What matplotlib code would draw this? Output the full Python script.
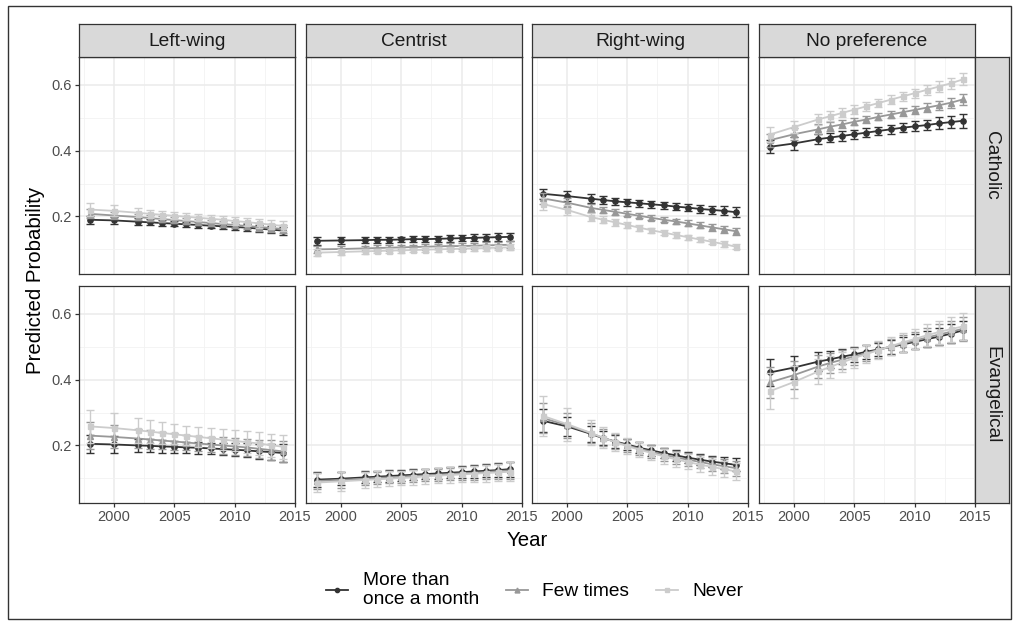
import matplotlib
matplotlib.use("Agg")
import matplotlib.pyplot as plt
from matplotlib.patches import Rectangle
from matplotlib.lines import Line2D

plt.rcParams['font.family'] = ['Liberation Sans', 'DejaVu Sans']

# ---------------- data ----------------
years = [1998, 2000, 2002, 2003, 2004, 2005, 2006, 2007, 2008, 2009, 2010, 2011, 2012, 2013, 2014]
religions = ["Catholic", "Evangelical"]
ideologies = ["Left-wing", "Centrist", "Right-wing", "No preference"]
attendance = ["More than\nonce a month", "Few times", "Never"]

# Catholic, per ideology (Left-wing, Centrist, Right-wing, No preference)
catholic_more = [
    [0.190, 0.188, 0.184, 0.182, 0.180, 0.178, 0.176, 0.174, 0.172, 0.170, 0.168, 0.166, 0.163, 0.160, 0.157],
    [0.126, 0.127, 0.128, 0.129, 0.129, 0.130, 0.131, 0.131, 0.132, 0.133, 0.134, 0.135, 0.136, 0.137, 0.138],
    [0.269, 0.262, 0.254, 0.250, 0.246, 0.243, 0.240, 0.237, 0.234, 0.230, 0.227, 0.223, 0.220, 0.217, 0.213],
    [0.412, 0.422, 0.435, 0.440, 0.445, 0.450, 0.455, 0.460, 0.465, 0.470, 0.474, 0.478, 0.483, 0.487, 0.491],
]
catholic_few = [
    [0.208, 0.203, 0.198, 0.195, 0.192, 0.189, 0.186, 0.183, 0.180, 0.177, 0.174, 0.171, 0.168, 0.165, 0.162],
    [0.100, 0.101, 0.103, 0.104, 0.105, 0.106, 0.107, 0.108, 0.109, 0.110, 0.110, 0.111, 0.112, 0.113, 0.114],
    [0.255, 0.242, 0.226, 0.220, 0.214, 0.208, 0.202, 0.196, 0.190, 0.185, 0.179, 0.173, 0.167, 0.161, 0.155],
    [0.432, 0.450, 0.465, 0.473, 0.480, 0.488, 0.495, 0.503, 0.510, 0.517, 0.524, 0.531, 0.538, 0.546, 0.556],
]
catholic_never = [
    [0.221, 0.217, 0.211, 0.208, 0.205, 0.202, 0.199, 0.196, 0.193, 0.190, 0.186, 0.183, 0.179, 0.175, 0.171],
    [0.090, 0.092, 0.094, 0.095, 0.096, 0.097, 0.098, 0.099, 0.100, 0.101, 0.102, 0.103, 0.104, 0.105, 0.106],
    [0.238, 0.220, 0.198, 0.190, 0.182, 0.174, 0.166, 0.158, 0.151, 0.144, 0.137, 0.130, 0.123, 0.116, 0.108],
    [0.449, 0.472, 0.495, 0.505, 0.515, 0.525, 0.535, 0.545, 0.555, 0.565, 0.575, 0.585, 0.595, 0.605, 0.617],
]
catholic_more_err = [
    [0.012, 0.011, 0.010, 0.009, 0.009, 0.008, 0.008, 0.008, 0.008, 0.009, 0.009, 0.010, 0.010, 0.011, 0.012],
    [0.012, 0.011, 0.010, 0.010, 0.009, 0.009, 0.009, 0.009, 0.009, 0.010, 0.010, 0.011, 0.011, 0.012, 0.013],
    [0.016, 0.015, 0.013, 0.012, 0.011, 0.011, 0.010, 0.010, 0.010, 0.011, 0.011, 0.012, 0.013, 0.014, 0.016],
    [0.020, 0.019, 0.016, 0.015, 0.014, 0.013, 0.013, 0.013, 0.013, 0.014, 0.015, 0.016, 0.018, 0.019, 0.021],
]
catholic_few_err = [
    [0.014, 0.012, 0.010, 0.010, 0.009, 0.009, 0.008, 0.008, 0.009, 0.009, 0.010, 0.010, 0.011, 0.012, 0.013],
    [0.010, 0.009, 0.008, 0.008, 0.007, 0.007, 0.007, 0.007, 0.007, 0.008, 0.008, 0.008, 0.009, 0.009, 0.010],
    [0.016, 0.014, 0.011, 0.010, 0.009, 0.008, 0.008, 0.008, 0.008, 0.008, 0.009, 0.009, 0.010, 0.010, 0.011],
    [0.020, 0.018, 0.015, 0.013, 0.012, 0.011, 0.011, 0.011, 0.011, 0.012, 0.012, 0.013, 0.014, 0.015, 0.016],
]
catholic_never_err = [
    [0.020, 0.017, 0.014, 0.013, 0.012, 0.011, 0.011, 0.011, 0.011, 0.011, 0.012, 0.012, 0.013, 0.014, 0.015],
    [0.010, 0.009, 0.008, 0.007, 0.007, 0.007, 0.007, 0.007, 0.007, 0.007, 0.007, 0.008, 0.008, 0.008, 0.009],
    [0.018, 0.015, 0.012, 0.011, 0.010, 0.009, 0.009, 0.008, 0.008, 0.008, 0.008, 0.008, 0.008, 0.008, 0.008],
    [0.022, 0.019, 0.016, 0.015, 0.014, 0.013, 0.013, 0.013, 0.013, 0.013, 0.014, 0.015, 0.016, 0.017, 0.018],
]

# Evangelical, per ideology (Left-wing, Centrist, Right-wing, No preference)
evangelical_more = [
    [0.205, 0.203, 0.200, 0.199, 0.197, 0.196, 0.194, 0.193, 0.191, 0.189, 0.187, 0.185, 0.182, 0.180, 0.177],
    [0.096, 0.099, 0.103, 0.105, 0.107, 0.109, 0.111, 0.113, 0.115, 0.117, 0.119, 0.121, 0.123, 0.125, 0.128],
    [0.275, 0.258, 0.235, 0.222, 0.212, 0.203, 0.193, 0.185, 0.177, 0.170, 0.163, 0.157, 0.151, 0.146, 0.141],
    [0.422, 0.437, 0.455, 0.462, 0.470, 0.477, 0.485, 0.492, 0.500, 0.507, 0.515, 0.523, 0.531, 0.540, 0.550],
]
evangelical_few = [
    [0.230, 0.226, 0.221, 0.218, 0.215, 0.212, 0.209, 0.206, 0.203, 0.200, 0.197, 0.194, 0.190, 0.186, 0.182],
    [0.092, 0.095, 0.099, 0.101, 0.103, 0.105, 0.107, 0.109, 0.111, 0.113, 0.115, 0.117, 0.119, 0.122, 0.124],
    [0.283, 0.262, 0.237, 0.223, 0.211, 0.200, 0.190, 0.181, 0.172, 0.164, 0.157, 0.150, 0.143, 0.137, 0.131],
    [0.392, 0.414, 0.440, 0.451, 0.461, 0.471, 0.481, 0.491, 0.500, 0.510, 0.519, 0.528, 0.537, 0.546, 0.555],
]
evangelical_never = [
    [0.258, 0.253, 0.246, 0.242, 0.238, 0.234, 0.230, 0.226, 0.222, 0.218, 0.214, 0.210, 0.206, 0.201, 0.196],
    [0.087, 0.091, 0.095, 0.097, 0.099, 0.101, 0.103, 0.106, 0.108, 0.110, 0.112, 0.114, 0.116, 0.118, 0.120],
    [0.290, 0.265, 0.238, 0.223, 0.210, 0.198, 0.187, 0.177, 0.167, 0.158, 0.150, 0.142, 0.135, 0.128, 0.121],
    [0.365, 0.393, 0.425, 0.439, 0.453, 0.466, 0.478, 0.490, 0.502, 0.513, 0.524, 0.535, 0.545, 0.554, 0.562],
]
evangelical_more_err = [
    [0.028, 0.025, 0.021, 0.020, 0.019, 0.018, 0.018, 0.018, 0.018, 0.019, 0.020, 0.021, 0.022, 0.024, 0.026],
    [0.022, 0.020, 0.018, 0.017, 0.017, 0.016, 0.016, 0.016, 0.017, 0.017, 0.018, 0.019, 0.020, 0.021, 0.023],
    [0.035, 0.030, 0.024, 0.021, 0.019, 0.018, 0.017, 0.016, 0.016, 0.016, 0.017, 0.017, 0.018, 0.019, 0.020],
    [0.040, 0.035, 0.028, 0.025, 0.023, 0.022, 0.021, 0.021, 0.021, 0.022, 0.023, 0.024, 0.026, 0.028, 0.030],
]
evangelical_few_err = [
    [0.040, 0.035, 0.030, 0.028, 0.026, 0.025, 0.024, 0.024, 0.024, 0.025, 0.026, 0.027, 0.028, 0.030, 0.032],
    [0.025, 0.023, 0.020, 0.019, 0.018, 0.018, 0.018, 0.018, 0.018, 0.019, 0.020, 0.021, 0.022, 0.023, 0.025],
    [0.045, 0.038, 0.030, 0.026, 0.023, 0.021, 0.020, 0.019, 0.019, 0.019, 0.020, 0.020, 0.021, 0.022, 0.023],
    [0.048, 0.042, 0.034, 0.030, 0.028, 0.026, 0.025, 0.025, 0.025, 0.026, 0.027, 0.029, 0.031, 0.033, 0.036],
]
evangelical_never_err = [
    [0.050, 0.045, 0.038, 0.035, 0.033, 0.031, 0.030, 0.030, 0.030, 0.031, 0.032, 0.033, 0.034, 0.035, 0.037],
    [0.030, 0.028, 0.025, 0.024, 0.023, 0.022, 0.022, 0.022, 0.022, 0.023, 0.024, 0.025, 0.026, 0.027, 0.029],
    [0.060, 0.050, 0.038, 0.032, 0.028, 0.025, 0.023, 0.022, 0.022, 0.022, 0.023, 0.023, 0.024, 0.025, 0.026],
    [0.055, 0.048, 0.038, 0.034, 0.031, 0.029, 0.028, 0.028, 0.028, 0.029, 0.031, 0.033, 0.035, 0.038, 0.041],
]

values = {
    "Catholic": [catholic_more, catholic_few, catholic_never],
    "Evangelical": [evangelical_more, evangelical_few, evangelical_never],
}
errors = {
    "Catholic": [catholic_more_err, catholic_few_err, catholic_never_err],
    "Evangelical": [evangelical_more_err, evangelical_few_err, evangelical_never_err],
}

# ---------------- style ----------------
colors = ["#333333", "#989898", "#CCCCCC"]
markers = ["o", "^", "s"]
msizes = [3.8, 4.4, 3.6]

W, H = 1017, 623
fig = plt.figure(figsize=(W / 100, H / 100), dpi=100)


def rect(x, y, w, h):
    return [x / W, 1 - (y + h) / H, w / W, h / H]


col_x = [79, 306, 532, 759]
row_y = [57, 286]
pw, ph = 216, 217
strip_h = 33
strip_w = 34

frame_col = "#333333"
tick_col = "#4D4D4D"

for r, rel in enumerate(religions):
    for c, ideo in enumerate(ideologies):
        ax = fig.add_axes(rect(col_x[c], row_y[r], pw, ph))
        ax.set_xlim(1997.1, 2015.0)
        ax.set_ylim(0.025, 0.685)
        ax.set_xticks([2000, 2005, 2010, 2015])
        ax.set_xticks([1997.5, 2002.5, 2007.5, 2012.5], minor=True)
        ax.set_yticks([0.2, 0.4, 0.6])
        ax.set_yticks([0.1, 0.3, 0.5], minor=True)
        ax.set_yticklabels(["0.2", "0.4", "0.6"])
        ax.grid(True, which="major", color="#EBEBEB", lw=1.1, zorder=0)
        ax.grid(True, which="minor", color="#F2F2F2", lw=0.6, zorder=0)
        ax.set_axisbelow(True)
        for sp in ax.spines.values():
            sp.set_color(frame_col)
            sp.set_linewidth(0.9)
        ax.tick_params(which="minor", length=0)
        ax.tick_params(which="major", length=3, width=0.9, color=frame_col,
                       labelsize=10.5, labelcolor=tick_col, pad=2)
        if r == 0:
            ax.tick_params(axis="x", which="major", length=0, labelbottom=False)
        if c != 0:
            ax.tick_params(axis="y", which="major", length=0, labelleft=False)

        for k in range(3):
            v = values[rel][k][c]
            e = errors[rel][k][c]
            ax.errorbar(years, v, yerr=e, fmt="none", ecolor=colors[k],
                        elinewidth=1.0, capsize=2.6, capthick=1.0, zorder=2 + k)
            ax.plot(years, v, color=colors[k], lw=1.3, marker=markers[k],
                    ms=msizes[k], mec=colors[k], mfc=colors[k], zorder=2 + k)

        # top strip
        if r == 0:
            sax = fig.add_axes(rect(col_x[c], row_y[0] - strip_h, pw, strip_h))
            sax.set_facecolor("#D9D9D9")
            sax.set_xticks([])
            sax.set_yticks([])
            for sp in sax.spines.values():
                sp.set_color(frame_col)
                sp.set_linewidth(0.9)
            sax.text(0.5, 0.48, ideo, ha="center", va="center", fontsize=13.8,
                     color="#1A1A1A", transform=sax.transAxes)
    # right strip
    rax = fig.add_axes(rect(col_x[3] + pw, row_y[r], strip_w, ph))
    rax.set_facecolor("#D9D9D9")
    rax.set_xticks([])
    rax.set_yticks([])
    for sp in rax.spines.values():
        sp.set_color(frame_col)
        sp.set_linewidth(0.9)
    rax.text(0.5, 0.5, rel, ha="center", va="center", rotation=-90,
             fontsize=13.8, color="#1A1A1A", transform=rax.transAxes)

# axis titles
fig.text(36 / W, 1 - 280 / H, "Predicted Probability", rotation=90,
         ha="center", va="center", fontsize=14.7, color="black")
fig.text(527 / W, 1 - 540 / H, "Year", ha="center", va="center",
         fontsize=14.7, color="black")

# legend
handles = [Line2D([0], [0], color=colors[k], lw=1.3, marker=markers[k],
                  ms=msizes[k] * 0.8, mec=colors[k], mfc=colors[k]) for k in range(3)]
fig.legend(handles, attendance, loc="center", ncol=3,
           bbox_to_anchor=(535 / W, 1 - 590 / H), frameon=False,
           fontsize=13.8, handlelength=1.15, handletextpad=0.75,
           columnspacing=1.4, labelspacing=0.2)

# outer border
fig.patches.append(Rectangle((8 / W, 1 - 619 / H), (1011 - 8) / W, (619 - 6) / H,
                             transform=fig.transFigure, fill=False,
                             edgecolor="#333333", lw=1.0))

fig.savefig("out.png", dpi=100)
